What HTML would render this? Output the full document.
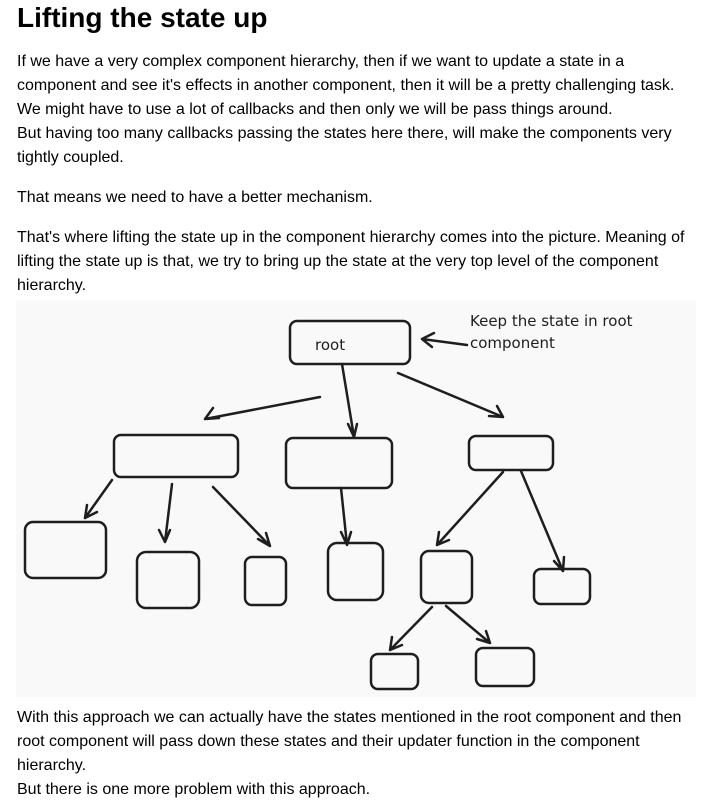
<!DOCTYPE html>
<html><head><meta charset="utf-8"><style>
body{margin:0;width:708px;height:806px;background:#fff;position:relative;font-family:"Liberation Sans",Arial,sans-serif;color:#000;overflow:hidden}
.t{position:absolute;left:17px;font-size:16px;line-height:24px;white-space:nowrap}
h1{position:absolute;left:17px;top:0;margin:0;font-size:28px;line-height:36px;font-weight:bold}
svg{position:absolute;left:0;top:0}
</style></head><body>
<h1>Lifting the state up</h1>
<div class="t" style="top:50px">If we have a very complex component hierarchy, then if we want to update a state in a</div>
<div class="t" style="top:74px">component and see it's effects in another component, then it will be a pretty challenging task.</div>
<div class="t" style="top:98px">We might have to use a lot of callbacks and then only we will be pass things around.</div>
<div class="t" style="top:122px">But having too many callbacks passing the states here there, will make the components very</div>
<div class="t" style="top:146px">tightly coupled.</div>
<div class="t" style="top:186px">That means we need to have a better mechanism.</div>
<div class="t" style="top:226px">That's where lifting the state up in the component hierarchy comes into the picture. Meaning of</div>
<div class="t" style="top:250px">lifting the state up is that, we try to bring up the state at the very top level of the component</div>
<div class="t" style="top:274px">hierarchy.</div>
<div class="t" style="top:706px">With this approach we can actually have the states mentioned in the root component and then</div>
<div class="t" style="top:730px">root component will pass down these states and their updater function in the component</div>
<div class="t" style="top:754px">hierarchy.</div>
<div class="t" style="top:778px">But there is one more problem with this approach.</div>
<svg width="708" height="806" viewBox="0 0 708 806">
<rect x="16" y="300" width="680" height="397" fill="#f9f9f9"/>
<g fill="none" stroke="#1e1e1e" stroke-width="2.5" stroke-linecap="round" stroke-linejoin="round">
<rect x="290" y="321" width="120" height="43" rx="7"/>
<rect x="114" y="435" width="124" height="42" rx="7"/>
<rect x="286" y="438" width="106" height="50" rx="7"/>
<rect x="469" y="436" width="84" height="34" rx="7"/>
<rect x="25" y="522" width="81" height="56" rx="8"/>
<rect x="137" y="552" width="62" height="56" rx="9"/>
<rect x="245" y="557" width="41" height="48" rx="7"/>
<rect x="328" y="543" width="55" height="57" rx="9"/>
<rect x="421" y="551" width="51" height="52" rx="8"/>
<rect x="534" y="569" width="56" height="35" rx="7"/>
<rect x="371" y="654" width="47" height="35" rx="7"/>
<rect x="476" y="648" width="58" height="38" rx="7"/>
<path d="M320 397L205 419M205 419l14-1M205 419l8-11"/>
<path d="M342 364L354 437M354 437l-6-13M354 437l3-13"/>
<path d="M398 373L503 417M503 417l-14-1M503 417l-6-11"/>
<path d="M112 480L85 518M85 518l12-6M85 518l2-13"/>
<path d="M172 484L165 542M165 542l-6-12M165 542l5-12"/>
<path d="M213 487L270 546M270 546l-12-7M270 546l-4-13"/>
<path d="M341 488L347 545M347 545l-6-13M347 545l4-13"/>
<path d="M503 472L437 545M437 545l12-5M437 545l2-13"/>
<path d="M521 471L563 571M563 571l-9-10M563 571l1-14"/>
<path d="M432 607L390 650M390 650l12-5M390 650l2-13"/>
<path d="M446 606L490 643M490 643l-13-4M490 643l-4-12"/>
<path d="M467 345L422 339M422 339l12-6M422 339l10 8"/>
</g>
<g font-family="'Comic Sans MS','DejaVu Sans',sans-serif" font-size="15" fill="#1e1e1e">
<text x="315" y="350">root</text>
<text x="470" y="326">Keep the state in root</text>
<text x="470" y="348">component</text>
</g>
</svg>
</body></html>
